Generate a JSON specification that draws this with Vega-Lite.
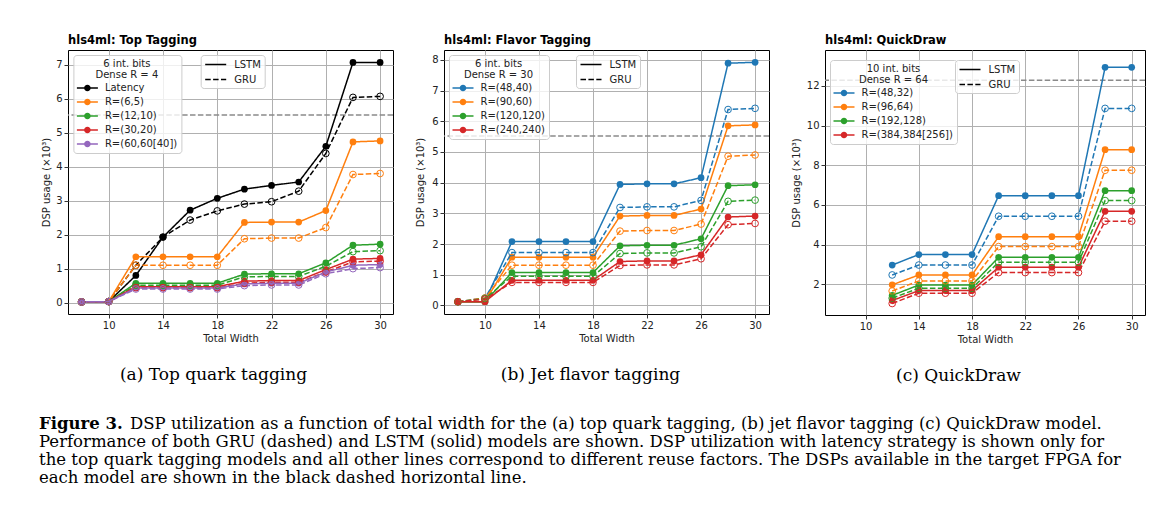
{
  "$schema": "https://vega.github.io/schema/vega-lite/v6.json",
  "background": "white",
  "padding": {"left": 39, "top": 34, "right": 31, "bottom": 20},
  "spacing": 31,
  "config": {
    "font": "DejaVu Sans",
    "view": {"stroke": "black", "strokeWidth": 1},
    "axis": {"domain": false, "tickColor": "black", "tickSize": 4, "tickWidth": 0.8, "labelFont": "DejaVu Sans", "labelFontSize": 10, "labelColor": "#222", "titleFont": "DejaVu Sans", "titleFontSize": 10, "titleFontWeight": "normal", "titleColor": "#222", "gridColor": "#b0b0b0", "gridWidth": 1, "labelPadding": 2},
    "legend": {"labelFont": "DejaVu Sans", "labelFontSize": 10, "labelColor": "#222", "titleFont": "DejaVu Sans", "titleFontSize": 10, "titleFontWeight": "normal", "titleColor": "#222", "symbolBaseStrokeColor": "black", "fillColor": "rgba(255,255,255,0.8)", "strokeColor": "#cccccc", "cornerRadius": 3, "padding": 3.5, "rowPadding": 4, "labelOffset": 18},
    "title": {"font": "DejaVu Sans", "fontSize": 11.5, "fontWeight": "bold", "color": "black", "anchor": "start", "frame": "group", "offset": 4}
  },
  "datasets": {
    "top": [
      {"s":"Latency","m":"LSTM","w":8,"v":0.02},{"s":"Latency","m":"LSTM","w":10,"v":0.03},{"s":"Latency","m":"LSTM","w":12,"v":0.8},{"s":"Latency","m":"LSTM","w":14,"v":1.93},{"s":"Latency","m":"LSTM","w":16,"v":2.72},{"s":"Latency","m":"LSTM","w":18,"v":3.07},{"s":"Latency","m":"LSTM","w":20,"v":3.34},{"s":"Latency","m":"LSTM","w":22,"v":3.45},{"s":"Latency","m":"LSTM","w":24,"v":3.55},{"s":"Latency","m":"LSTM","w":26,"v":4.6},{"s":"Latency","m":"LSTM","w":28,"v":7.07},{"s":"Latency","m":"LSTM","w":30,"v":7.07},
      {"s":"Latency","m":"GRU","w":8,"v":0.02},{"s":"Latency","m":"GRU","w":10,"v":0.03},{"s":"Latency","m":"GRU","w":12,"v":1.1},{"s":"Latency","m":"GRU","w":14,"v":1.93},{"s":"Latency","m":"GRU","w":16,"v":2.43},{"s":"Latency","m":"GRU","w":18,"v":2.7},{"s":"Latency","m":"GRU","w":20,"v":2.9},{"s":"Latency","m":"GRU","w":22,"v":2.97},{"s":"Latency","m":"GRU","w":24,"v":3.28},{"s":"Latency","m":"GRU","w":26,"v":4.39},{"s":"Latency","m":"GRU","w":28,"v":6.04},{"s":"Latency","m":"GRU","w":30,"v":6.07},
      {"s":"R=(6,5)","m":"LSTM","w":8,"v":0.02},{"s":"R=(6,5)","m":"LSTM","w":10,"v":0.03},{"s":"R=(6,5)","m":"LSTM","w":12,"v":1.35},{"s":"R=(6,5)","m":"LSTM","w":14,"v":1.35},{"s":"R=(6,5)","m":"LSTM","w":16,"v":1.35},{"s":"R=(6,5)","m":"LSTM","w":18,"v":1.35},{"s":"R=(6,5)","m":"LSTM","w":20,"v":2.36},{"s":"R=(6,5)","m":"LSTM","w":22,"v":2.37},{"s":"R=(6,5)","m":"LSTM","w":24,"v":2.37},{"s":"R=(6,5)","m":"LSTM","w":26,"v":2.71},{"s":"R=(6,5)","m":"LSTM","w":28,"v":4.73},{"s":"R=(6,5)","m":"LSTM","w":30,"v":4.76},
      {"s":"R=(6,5)","m":"GRU","w":8,"v":0.02},{"s":"R=(6,5)","m":"GRU","w":10,"v":0.03},{"s":"R=(6,5)","m":"GRU","w":12,"v":1.1},{"s":"R=(6,5)","m":"GRU","w":14,"v":1.1},{"s":"R=(6,5)","m":"GRU","w":16,"v":1.1},{"s":"R=(6,5)","m":"GRU","w":18,"v":1.1},{"s":"R=(6,5)","m":"GRU","w":20,"v":1.88},{"s":"R=(6,5)","m":"GRU","w":22,"v":1.9},{"s":"R=(6,5)","m":"GRU","w":24,"v":1.9},{"s":"R=(6,5)","m":"GRU","w":26,"v":2.21},{"s":"R=(6,5)","m":"GRU","w":28,"v":3.77},{"s":"R=(6,5)","m":"GRU","w":30,"v":3.8},
      {"s":"R=(12,10)","m":"LSTM","w":8,"v":0.02},{"s":"R=(12,10)","m":"LSTM","w":10,"v":0.03},{"s":"R=(12,10)","m":"LSTM","w":12,"v":0.57},{"s":"R=(12,10)","m":"LSTM","w":14,"v":0.57},{"s":"R=(12,10)","m":"LSTM","w":16,"v":0.57},{"s":"R=(12,10)","m":"LSTM","w":18,"v":0.57},{"s":"R=(12,10)","m":"LSTM","w":20,"v":0.84},{"s":"R=(12,10)","m":"LSTM","w":22,"v":0.85},{"s":"R=(12,10)","m":"LSTM","w":24,"v":0.85},{"s":"R=(12,10)","m":"LSTM","w":26,"v":1.17},{"s":"R=(12,10)","m":"LSTM","w":28,"v":1.69},{"s":"R=(12,10)","m":"LSTM","w":30,"v":1.72},
      {"s":"R=(12,10)","m":"GRU","w":8,"v":0.02},{"s":"R=(12,10)","m":"GRU","w":10,"v":0.03},{"s":"R=(12,10)","m":"GRU","w":12,"v":0.51},{"s":"R=(12,10)","m":"GRU","w":14,"v":0.51},{"s":"R=(12,10)","m":"GRU","w":16,"v":0.51},{"s":"R=(12,10)","m":"GRU","w":18,"v":0.51},{"s":"R=(12,10)","m":"GRU","w":20,"v":0.76},{"s":"R=(12,10)","m":"GRU","w":22,"v":0.77},{"s":"R=(12,10)","m":"GRU","w":24,"v":0.77},{"s":"R=(12,10)","m":"GRU","w":26,"v":1.07},{"s":"R=(12,10)","m":"GRU","w":28,"v":1.5},{"s":"R=(12,10)","m":"GRU","w":30,"v":1.53},
      {"s":"R=(30,20)","m":"LSTM","w":8,"v":0.02},{"s":"R=(30,20)","m":"LSTM","w":10,"v":0.03},{"s":"R=(30,20)","m":"LSTM","w":12,"v":0.47},{"s":"R=(30,20)","m":"LSTM","w":14,"v":0.47},{"s":"R=(30,20)","m":"LSTM","w":16,"v":0.47},{"s":"R=(30,20)","m":"LSTM","w":18,"v":0.47},{"s":"R=(30,20)","m":"LSTM","w":20,"v":0.63},{"s":"R=(30,20)","m":"LSTM","w":22,"v":0.65},{"s":"R=(30,20)","m":"LSTM","w":24,"v":0.65},{"s":"R=(30,20)","m":"LSTM","w":26,"v":0.97},{"s":"R=(30,20)","m":"LSTM","w":28,"v":1.28},{"s":"R=(30,20)","m":"LSTM","w":30,"v":1.3},
      {"s":"R=(30,20)","m":"GRU","w":8,"v":0.02},{"s":"R=(30,20)","m":"GRU","w":10,"v":0.03},{"s":"R=(30,20)","m":"GRU","w":12,"v":0.44},{"s":"R=(30,20)","m":"GRU","w":14,"v":0.44},{"s":"R=(30,20)","m":"GRU","w":16,"v":0.44},{"s":"R=(30,20)","m":"GRU","w":18,"v":0.44},{"s":"R=(30,20)","m":"GRU","w":20,"v":0.57},{"s":"R=(30,20)","m":"GRU","w":22,"v":0.6},{"s":"R=(30,20)","m":"GRU","w":24,"v":0.6},{"s":"R=(30,20)","m":"GRU","w":26,"v":0.9},{"s":"R=(30,20)","m":"GRU","w":28,"v":1.2},{"s":"R=(30,20)","m":"GRU","w":30,"v":1.22},
      {"s":"R=(60,60[40])","m":"LSTM","w":8,"v":0.02},{"s":"R=(60,60[40])","m":"LSTM","w":10,"v":0.03},{"s":"R=(60,60[40])","m":"LSTM","w":12,"v":0.43},{"s":"R=(60,60[40])","m":"LSTM","w":14,"v":0.43},{"s":"R=(60,60[40])","m":"LSTM","w":16,"v":0.43},{"s":"R=(60,60[40])","m":"LSTM","w":18,"v":0.43},{"s":"R=(60,60[40])","m":"LSTM","w":20,"v":0.55},{"s":"R=(60,60[40])","m":"LSTM","w":22,"v":0.57},{"s":"R=(60,60[40])","m":"LSTM","w":24,"v":0.57},{"s":"R=(60,60[40])","m":"LSTM","w":26,"v":0.9},{"s":"R=(60,60[40])","m":"LSTM","w":28,"v":1.1},{"s":"R=(60,60[40])","m":"LSTM","w":30,"v":1.12},
      {"s":"R=(60,60[40])","m":"GRU","w":8,"v":0.02},{"s":"R=(60,60[40])","m":"GRU","w":10,"v":0.03},{"s":"R=(60,60[40])","m":"GRU","w":12,"v":0.4},{"s":"R=(60,60[40])","m":"GRU","w":14,"v":0.4},{"s":"R=(60,60[40])","m":"GRU","w":16,"v":0.4},{"s":"R=(60,60[40])","m":"GRU","w":18,"v":0.4},{"s":"R=(60,60[40])","m":"GRU","w":20,"v":0.5},{"s":"R=(60,60[40])","m":"GRU","w":22,"v":0.52},{"s":"R=(60,60[40])","m":"GRU","w":24,"v":0.52},{"s":"R=(60,60[40])","m":"GRU","w":26,"v":0.85},{"s":"R=(60,60[40])","m":"GRU","w":28,"v":1.0},{"s":"R=(60,60[40])","m":"GRU","w":30,"v":1.03}
    ],
    "flavor": [
      {"s":"R=(48,40)","m":"LSTM","w":8,"v":0.12},{"s":"R=(48,40)","m":"LSTM","w":10,"v":0.12},{"s":"R=(48,40)","m":"LSTM","w":12,"v":2.08},{"s":"R=(48,40)","m":"LSTM","w":14,"v":2.08},{"s":"R=(48,40)","m":"LSTM","w":16,"v":2.08},{"s":"R=(48,40)","m":"LSTM","w":18,"v":2.08},{"s":"R=(48,40)","m":"LSTM","w":20,"v":3.94},{"s":"R=(48,40)","m":"LSTM","w":22,"v":3.96},{"s":"R=(48,40)","m":"LSTM","w":24,"v":3.96},{"s":"R=(48,40)","m":"LSTM","w":26,"v":4.16},{"s":"R=(48,40)","m":"LSTM","w":28,"v":7.89},{"s":"R=(48,40)","m":"LSTM","w":30,"v":7.92},
      {"s":"R=(48,40)","m":"GRU","w":8,"v":0.12},{"s":"R=(48,40)","m":"GRU","w":10,"v":0.24},{"s":"R=(48,40)","m":"GRU","w":12,"v":1.72},{"s":"R=(48,40)","m":"GRU","w":14,"v":1.72},{"s":"R=(48,40)","m":"GRU","w":16,"v":1.72},{"s":"R=(48,40)","m":"GRU","w":18,"v":1.72},{"s":"R=(48,40)","m":"GRU","w":20,"v":3.19},{"s":"R=(48,40)","m":"GRU","w":22,"v":3.21},{"s":"R=(48,40)","m":"GRU","w":24,"v":3.21},{"s":"R=(48,40)","m":"GRU","w":26,"v":3.42},{"s":"R=(48,40)","m":"GRU","w":28,"v":6.38},{"s":"R=(48,40)","m":"GRU","w":30,"v":6.42},
      {"s":"R=(90,60)","m":"LSTM","w":8,"v":0.12},{"s":"R=(90,60)","m":"LSTM","w":10,"v":0.12},{"s":"R=(90,60)","m":"LSTM","w":12,"v":1.57},{"s":"R=(90,60)","m":"LSTM","w":14,"v":1.57},{"s":"R=(90,60)","m":"LSTM","w":16,"v":1.57},{"s":"R=(90,60)","m":"LSTM","w":18,"v":1.57},{"s":"R=(90,60)","m":"LSTM","w":20,"v":2.91},{"s":"R=(90,60)","m":"LSTM","w":22,"v":2.93},{"s":"R=(90,60)","m":"LSTM","w":24,"v":2.93},{"s":"R=(90,60)","m":"LSTM","w":26,"v":3.14},{"s":"R=(90,60)","m":"LSTM","w":28,"v":5.85},{"s":"R=(90,60)","m":"LSTM","w":30,"v":5.88},
      {"s":"R=(90,60)","m":"GRU","w":8,"v":0.12},{"s":"R=(90,60)","m":"GRU","w":10,"v":0.24},{"s":"R=(90,60)","m":"GRU","w":12,"v":1.31},{"s":"R=(90,60)","m":"GRU","w":14,"v":1.31},{"s":"R=(90,60)","m":"GRU","w":16,"v":1.31},{"s":"R=(90,60)","m":"GRU","w":18,"v":1.31},{"s":"R=(90,60)","m":"GRU","w":20,"v":2.42},{"s":"R=(90,60)","m":"GRU","w":22,"v":2.44},{"s":"R=(90,60)","m":"GRU","w":24,"v":2.44},{"s":"R=(90,60)","m":"GRU","w":26,"v":2.65},{"s":"R=(90,60)","m":"GRU","w":28,"v":4.86},{"s":"R=(90,60)","m":"GRU","w":30,"v":4.9},
      {"s":"R=(120,120)","m":"LSTM","w":8,"v":0.12},{"s":"R=(120,120)","m":"LSTM","w":10,"v":0.12},{"s":"R=(120,120)","m":"LSTM","w":12,"v":1.07},{"s":"R=(120,120)","m":"LSTM","w":14,"v":1.07},{"s":"R=(120,120)","m":"LSTM","w":16,"v":1.07},{"s":"R=(120,120)","m":"LSTM","w":18,"v":1.07},{"s":"R=(120,120)","m":"LSTM","w":20,"v":1.94},{"s":"R=(120,120)","m":"LSTM","w":22,"v":1.96},{"s":"R=(120,120)","m":"LSTM","w":24,"v":1.96},{"s":"R=(120,120)","m":"LSTM","w":26,"v":2.17},{"s":"R=(120,120)","m":"LSTM","w":28,"v":3.9},{"s":"R=(120,120)","m":"LSTM","w":30,"v":3.93},
      {"s":"R=(120,120)","m":"GRU","w":8,"v":0.12},{"s":"R=(120,120)","m":"GRU","w":10,"v":0.22},{"s":"R=(120,120)","m":"GRU","w":12,"v":0.95},{"s":"R=(120,120)","m":"GRU","w":14,"v":0.95},{"s":"R=(120,120)","m":"GRU","w":16,"v":0.95},{"s":"R=(120,120)","m":"GRU","w":18,"v":0.95},{"s":"R=(120,120)","m":"GRU","w":20,"v":1.69},{"s":"R=(120,120)","m":"GRU","w":22,"v":1.71},{"s":"R=(120,120)","m":"GRU","w":24,"v":1.71},{"s":"R=(120,120)","m":"GRU","w":26,"v":1.91},{"s":"R=(120,120)","m":"GRU","w":28,"v":3.39},{"s":"R=(120,120)","m":"GRU","w":30,"v":3.43},
      {"s":"R=(240,240)","m":"LSTM","w":8,"v":0.12},{"s":"R=(240,240)","m":"LSTM","w":10,"v":0.12},{"s":"R=(240,240)","m":"LSTM","w":12,"v":0.82},{"s":"R=(240,240)","m":"LSTM","w":14,"v":0.82},{"s":"R=(240,240)","m":"LSTM","w":16,"v":0.82},{"s":"R=(240,240)","m":"LSTM","w":18,"v":0.82},{"s":"R=(240,240)","m":"LSTM","w":20,"v":1.43},{"s":"R=(240,240)","m":"LSTM","w":22,"v":1.45},{"s":"R=(240,240)","m":"LSTM","w":24,"v":1.45},{"s":"R=(240,240)","m":"LSTM","w":26,"v":1.65},{"s":"R=(240,240)","m":"LSTM","w":28,"v":2.88},{"s":"R=(240,240)","m":"LSTM","w":30,"v":2.91},
      {"s":"R=(240,240)","m":"GRU","w":8,"v":0.12},{"s":"R=(240,240)","m":"GRU","w":10,"v":0.2},{"s":"R=(240,240)","m":"GRU","w":12,"v":0.75},{"s":"R=(240,240)","m":"GRU","w":14,"v":0.75},{"s":"R=(240,240)","m":"GRU","w":16,"v":0.75},{"s":"R=(240,240)","m":"GRU","w":18,"v":0.75},{"s":"R=(240,240)","m":"GRU","w":20,"v":1.3},{"s":"R=(240,240)","m":"GRU","w":22,"v":1.32},{"s":"R=(240,240)","m":"GRU","w":24,"v":1.32},{"s":"R=(240,240)","m":"GRU","w":26,"v":1.52},{"s":"R=(240,240)","m":"GRU","w":28,"v":2.63},{"s":"R=(240,240)","m":"GRU","w":30,"v":2.67}
    ],
    "quick": [
      {"s":"R=(48,32)","m":"LSTM","w":12,"v":2.97},{"s":"R=(48,32)","m":"LSTM","w":14,"v":3.5},{"s":"R=(48,32)","m":"LSTM","w":16,"v":3.5},{"s":"R=(48,32)","m":"LSTM","w":18,"v":3.5},{"s":"R=(48,32)","m":"LSTM","w":20,"v":6.47},{"s":"R=(48,32)","m":"LSTM","w":22,"v":6.47},{"s":"R=(48,32)","m":"LSTM","w":24,"v":6.47},{"s":"R=(48,32)","m":"LSTM","w":26,"v":6.47},{"s":"R=(48,32)","m":"LSTM","w":28,"v":12.94},{"s":"R=(48,32)","m":"LSTM","w":30,"v":12.94},
      {"s":"R=(48,32)","m":"GRU","w":12,"v":2.47},{"s":"R=(48,32)","m":"GRU","w":14,"v":2.97},{"s":"R=(48,32)","m":"GRU","w":16,"v":2.97},{"s":"R=(48,32)","m":"GRU","w":18,"v":2.97},{"s":"R=(48,32)","m":"GRU","w":20,"v":5.43},{"s":"R=(48,32)","m":"GRU","w":22,"v":5.43},{"s":"R=(48,32)","m":"GRU","w":24,"v":5.43},{"s":"R=(48,32)","m":"GRU","w":26,"v":5.43},{"s":"R=(48,32)","m":"GRU","w":28,"v":10.87},{"s":"R=(48,32)","m":"GRU","w":30,"v":10.87},
      {"s":"R=(96,64)","m":"LSTM","w":12,"v":1.97},{"s":"R=(96,64)","m":"LSTM","w":14,"v":2.47},{"s":"R=(96,64)","m":"LSTM","w":16,"v":2.47},{"s":"R=(96,64)","m":"LSTM","w":18,"v":2.47},{"s":"R=(96,64)","m":"LSTM","w":20,"v":4.4},{"s":"R=(96,64)","m":"LSTM","w":22,"v":4.4},{"s":"R=(96,64)","m":"LSTM","w":24,"v":4.4},{"s":"R=(96,64)","m":"LSTM","w":26,"v":4.4},{"s":"R=(96,64)","m":"LSTM","w":28,"v":8.79},{"s":"R=(96,64)","m":"LSTM","w":30,"v":8.79},
      {"s":"R=(96,64)","m":"GRU","w":12,"v":1.66},{"s":"R=(96,64)","m":"GRU","w":14,"v":2.17},{"s":"R=(96,64)","m":"GRU","w":16,"v":2.17},{"s":"R=(96,64)","m":"GRU","w":18,"v":2.17},{"s":"R=(96,64)","m":"GRU","w":20,"v":3.9},{"s":"R=(96,64)","m":"GRU","w":22,"v":3.9},{"s":"R=(96,64)","m":"GRU","w":24,"v":3.9},{"s":"R=(96,64)","m":"GRU","w":26,"v":3.9},{"s":"R=(96,64)","m":"GRU","w":28,"v":7.75},{"s":"R=(96,64)","m":"GRU","w":30,"v":7.75},
      {"s":"R=(192,128)","m":"LSTM","w":12,"v":1.44},{"s":"R=(192,128)","m":"LSTM","w":14,"v":1.96},{"s":"R=(192,128)","m":"LSTM","w":16,"v":1.96},{"s":"R=(192,128)","m":"LSTM","w":18,"v":1.96},{"s":"R=(192,128)","m":"LSTM","w":20,"v":3.36},{"s":"R=(192,128)","m":"LSTM","w":22,"v":3.36},{"s":"R=(192,128)","m":"LSTM","w":24,"v":3.36},{"s":"R=(192,128)","m":"LSTM","w":26,"v":3.36},{"s":"R=(192,128)","m":"LSTM","w":28,"v":6.72},{"s":"R=(192,128)","m":"LSTM","w":30,"v":6.72},
      {"s":"R=(192,128)","m":"GRU","w":12,"v":1.3},{"s":"R=(192,128)","m":"GRU","w":14,"v":1.8},{"s":"R=(192,128)","m":"GRU","w":16,"v":1.8},{"s":"R=(192,128)","m":"GRU","w":18,"v":1.8},{"s":"R=(192,128)","m":"GRU","w":20,"v":3.11},{"s":"R=(192,128)","m":"GRU","w":22,"v":3.11},{"s":"R=(192,128)","m":"GRU","w":24,"v":3.11},{"s":"R=(192,128)","m":"GRU","w":26,"v":3.11},{"s":"R=(192,128)","m":"GRU","w":28,"v":6.22},{"s":"R=(192,128)","m":"GRU","w":30,"v":6.22},
      {"s":"R=(384,384[256])","m":"LSTM","w":12,"v":1.18},{"s":"R=(384,384[256])","m":"LSTM","w":14,"v":1.68},{"s":"R=(384,384[256])","m":"LSTM","w":16,"v":1.68},{"s":"R=(384,384[256])","m":"LSTM","w":18,"v":1.68},{"s":"R=(384,384[256])","m":"LSTM","w":20,"v":2.86},{"s":"R=(384,384[256])","m":"LSTM","w":22,"v":2.86},{"s":"R=(384,384[256])","m":"LSTM","w":24,"v":2.86},{"s":"R=(384,384[256])","m":"LSTM","w":26,"v":2.86},{"s":"R=(384,384[256])","m":"LSTM","w":28,"v":5.68},{"s":"R=(384,384[256])","m":"LSTM","w":30,"v":5.68},
      {"s":"R=(384,384[256])","m":"GRU","w":12,"v":1.03},{"s":"R=(384,384[256])","m":"GRU","w":14,"v":1.55},{"s":"R=(384,384[256])","m":"GRU","w":16,"v":1.55},{"s":"R=(384,384[256])","m":"GRU","w":18,"v":1.55},{"s":"R=(384,384[256])","m":"GRU","w":20,"v":2.59},{"s":"R=(384,384[256])","m":"GRU","w":22,"v":2.59},{"s":"R=(384,384[256])","m":"GRU","w":24,"v":2.59},{"s":"R=(384,384[256])","m":"GRU","w":26,"v":2.59},{"s":"R=(384,384[256])","m":"GRU","w":28,"v":5.18},{"s":"R=(384,384[256])","m":"GRU","w":30,"v":5.18}
    ]
  },
  "vconcat": [
    {
      "spacing": 20,
      "resolve": {"scale": {"color": "independent", "strokeDash": "independent"}, "legend": {"color": "independent", "strokeDash": "independent"}},
      "hconcat": [
        {
          "width": 325, "height": 264,
          "title": {"text": "hls4ml: Top Tagging"},
          "resolve": {"axis": {"x": "independent"}},
          "layer": [
            {
              "data": {"values": [{"fpga": 5.52}]},
              "mark": {"type": "rule", "color": "#8a8a8a", "strokeWidth": 1.5, "strokeDash": [5.5, 2.4]},
              "encoding": {"y": {"field": "fpga", "type": "quantitative", "scale": {"domain": [-0.335, 7.435], "nice": false, "zero": false}, "axis": {"values": [0, 1, 2, 3, 4, 5, 6, 7], "title": "DSP usage (×10³)", "grid": true, "titlePadding": 2, "minExtent": 15, "maxExtent": 15}}}
            },
            {
              "data": {"name": "top"},
              "transform": [{"filter": "datum.m == 'LSTM'"}],
              "mark": {"type": "point", "filled": true, "opacity": 1, "size": 45},
              "encoding": {
                "x": {"field": "w", "type": "quantitative", "scale": {"domain": [7.0, 30.95], "nice": false, "zero": false}, "axis": null},
                "y": {"field": "v", "type": "quantitative", "scale": {"domain": [-0.335, 7.435], "nice": false, "zero": false}, "axis": {"values": [0, 1, 2, 3, 4, 5, 6, 7], "title": "DSP usage (×10³)", "grid": true, "titlePadding": 2, "minExtent": 15, "maxExtent": 15}},
                "color": {"field": "s", "type": "nominal", "scale": {"domain": ["Latency", "R=(6,5)", "R=(12,10)", "R=(30,20)", "R=(60,60[40])"], "range": ["#000000", "#ff7f0e", "#2ca02c", "#d62728", "#9467bd"]}, "legend": {"orient": "none", "legendX": 5.4, "legendY": 5, "title": ["6 int. bits", "Dense R = 4"], "titleAnchor": "middle", "titleAlign": "center", "titleLineHeight": 11.5, "titlePadding": 3, "symbolType": "M-1,-0.15H3.2V0.15H-1Z M1.76,0A0.66,0.66,0,1,1,0.44,0A0.66,0.66,0,1,1,1.76,0Z", "symbolSize": 100, "symbolStrokeWidth": 0}}
              }
            },
            {
              "data": {"name": "top"},
              "mark": {"type": "line", "strokeWidth": 1.5},
              "encoding": {
                "x": {"field": "w", "type": "quantitative", "scale": {"domain": [7.0, 30.95], "nice": false, "zero": false}, "axis": {"values": [10, 14, 18, 22, 26, 30], "title": "Total Width", "grid": true, "titlePadding": 3}},
                "y": {"field": "v", "type": "quantitative", "scale": {"domain": [-0.335, 7.435], "nice": false, "zero": false}, "axis": {"values": [0, 1, 2, 3, 4, 5, 6, 7], "title": "DSP usage (×10³)", "grid": true, "titlePadding": 2, "minExtent": 15, "maxExtent": 15}},
                "color": {"field": "s", "type": "nominal"},
                "strokeDash": {"field": "m", "type": "nominal", "scale": {"domain": ["LSTM", "GRU"], "range": [[1, 0], [5.5, 2.4]]}, "legend": {"orient": "none", "legendX": 132.7, "legendY": 5, "title": null, "symbolType": "M-1,0H3.2", "symbolSize": 100, "symbolStrokeColor": "black", "symbolStrokeWidth": 1.5}}
              }
            },
            {
              "data": {"name": "top"},
              "transform": [{"filter": "datum.m == 'GRU'"}],
              "mark": {"type": "point", "filled": false, "opacity": 1, "size": 45, "strokeWidth": 1},
              "encoding": {
                "x": {"field": "w", "type": "quantitative", "scale": {"domain": [7.0, 30.95], "nice": false, "zero": false}, "axis": {"orient": "bottom", "title": "(a) Top quark tagging", "labels": false, "ticks": false, "domain": false, "grid": false, "titleFont": "DejaVu Serif", "titleFontSize": 17, "titleColor": "black", "titlePadding": 52, "titleX": 145, "titleAlign": "center"}},
                "y": {"field": "v", "type": "quantitative", "scale": {"domain": [-0.335, 7.435], "nice": false, "zero": false}, "axis": {"values": [0, 1, 2, 3, 4, 5, 6, 7], "title": "DSP usage (×10³)", "grid": true, "titlePadding": 2, "minExtent": 15, "maxExtent": 15}},
                "color": {"field": "s", "type": "nominal"}
              }
            }
          ]
        },
        {
          "width": 325, "height": 264,
          "title": {"text": "hls4ml: Flavor Tagging"},
          "resolve": {"axis": {"x": "independent"}},
          "layer": [
            {
              "data": {"values": [{"fpga": 5.52}]},
              "mark": {"type": "rule", "color": "#8a8a8a", "strokeWidth": 1.5, "strokeDash": [5.5, 2.4]},
              "encoding": {"y": {"field": "fpga", "type": "quantitative", "scale": {"domain": [-0.28, 8.32], "nice": false, "zero": false}, "axis": {"values": [0, 1, 2, 3, 4, 5, 6, 7, 8], "title": "DSP usage (×10³)", "grid": true, "titlePadding": 2, "minExtent": 16.5, "maxExtent": 16.5}}}
            },
            {
              "data": {"name": "flavor"},
              "transform": [{"filter": "datum.m == 'LSTM'"}],
              "mark": {"type": "point", "filled": true, "opacity": 1, "size": 45},
              "encoding": {
                "x": {"field": "w", "type": "quantitative", "scale": {"domain": [6.97, 31.03], "nice": false, "zero": false}, "axis": null},
                "y": {"field": "v", "type": "quantitative", "scale": {"domain": [-0.28, 8.32], "nice": false, "zero": false}, "axis": {"values": [0, 1, 2, 3, 4, 5, 6, 7, 8], "title": "DSP usage (×10³)", "grid": true, "titlePadding": 2, "minExtent": 16.5, "maxExtent": 16.5}},
                "color": {"field": "s", "type": "nominal", "scale": {"domain": ["R=(48,40)", "R=(90,60)", "R=(120,120)", "R=(240,240)"], "range": ["#1f77b4", "#ff7f0e", "#2ca02c", "#d62728"]}, "legend": {"orient": "none", "legendX": 5, "legendY": 5, "title": ["6 int. bits", "Dense R = 30"], "titleAnchor": "middle", "titleAlign": "center", "titleLineHeight": 11.5, "titlePadding": 3, "symbolType": "M-1,-0.15H3.2V0.15H-1Z M1.76,0A0.66,0.66,0,1,1,0.44,0A0.66,0.66,0,1,1,1.76,0Z", "symbolSize": 100, "symbolStrokeWidth": 0}}
              }
            },
            {
              "data": {"name": "flavor"},
              "mark": {"type": "line", "strokeWidth": 1.5},
              "encoding": {
                "x": {"field": "w", "type": "quantitative", "scale": {"domain": [6.97, 31.03], "nice": false, "zero": false}, "axis": {"values": [10, 14, 18, 22, 26, 30], "title": "Total Width", "grid": true, "titlePadding": 3}},
                "y": {"field": "v", "type": "quantitative", "scale": {"domain": [-0.28, 8.32], "nice": false, "zero": false}, "axis": {"values": [0, 1, 2, 3, 4, 5, 6, 7, 8], "title": "DSP usage (×10³)", "grid": true, "titlePadding": 2, "minExtent": 16.5, "maxExtent": 16.5}},
                "color": {"field": "s", "type": "nominal"},
                "strokeDash": {"field": "m", "type": "nominal", "scale": {"domain": ["LSTM", "GRU"], "range": [[1, 0], [5.5, 2.4]]}, "legend": {"orient": "none", "legendX": 132, "legendY": 5, "title": null, "symbolType": "M-1,0H3.2", "symbolSize": 100, "symbolStrokeColor": "black", "symbolStrokeWidth": 1.5}}
              }
            },
            {
              "data": {"name": "flavor"},
              "transform": [{"filter": "datum.m == 'GRU'"}],
              "mark": {"type": "point", "filled": false, "opacity": 1, "size": 45, "strokeWidth": 1},
              "encoding": {
                "x": {"field": "w", "type": "quantitative", "scale": {"domain": [6.97, 31.03], "nice": false, "zero": false}, "axis": {"orient": "bottom", "title": "(b) Jet flavor tagging", "labels": false, "ticks": false, "domain": false, "grid": false, "titleFont": "DejaVu Serif", "titleFontSize": 17, "titleColor": "black", "titlePadding": 52, "titleX": 146, "titleAlign": "center"}},
                "y": {"field": "v", "type": "quantitative", "scale": {"domain": [-0.28, 8.32], "nice": false, "zero": false}, "axis": {"values": [0, 1, 2, 3, 4, 5, 6, 7, 8], "title": "DSP usage (×10³)", "grid": true, "titlePadding": 2, "minExtent": 16.5, "maxExtent": 16.5}},
                "color": {"field": "s", "type": "nominal"}
              }
            }
          ]
        },
        {
          "width": 320, "height": 265,
          "title": {"text": "hls4ml: QuickDraw"},
          "resolve": {"axis": {"x": "independent"}},
          "layer": [
            {
              "data": {"values": [{"fpga": 12.288}]},
              "mark": {"type": "rule", "color": "#8a8a8a", "strokeWidth": 1.5, "strokeDash": [5.5, 2.4]},
              "encoding": {"y": {"field": "fpga", "type": "quantitative", "scale": {"domain": [0.45, 13.815], "nice": false, "zero": false}, "axis": {"values": [2, 4, 6, 8, 10, 12], "title": "DSP usage (×10³)", "grid": true, "titlePadding": 2, "minExtent": 21.5, "maxExtent": 21.5}}}
            },
            {
              "data": {"name": "quick"},
              "transform": [{"filter": "datum.m == 'LSTM'"}],
              "mark": {"type": "point", "filled": true, "opacity": 1, "size": 45},
              "encoding": {
                "x": {"field": "w", "type": "quantitative", "scale": {"domain": [6.95, 31.0], "nice": false, "zero": false}, "axis": null},
                "y": {"field": "v", "type": "quantitative", "scale": {"domain": [0.45, 13.815], "nice": false, "zero": false}, "axis": {"values": [2, 4, 6, 8, 10, 12], "title": "DSP usage (×10³)", "grid": true, "titlePadding": 2, "minExtent": 21.5, "maxExtent": 21.5}},
                "color": {"field": "s", "type": "nominal", "scale": {"domain": ["R=(48,32)", "R=(96,64)", "R=(192,128)", "R=(384,384[256])"], "range": ["#1f77b4", "#ff7f0e", "#2ca02c", "#d62728"]}, "legend": {"orient": "none", "legendX": 5, "legendY": 10, "title": ["10 int. bits", "Dense R = 64"], "titleAnchor": "middle", "titleAlign": "center", "titleLineHeight": 11.5, "titlePadding": 3, "symbolType": "M-1,-0.15H3.2V0.15H-1Z M1.76,0A0.66,0.66,0,1,1,0.44,0A0.66,0.66,0,1,1,1.76,0Z", "symbolSize": 100, "symbolStrokeWidth": 0}}
              }
            },
            {
              "data": {"name": "quick"},
              "mark": {"type": "line", "strokeWidth": 1.5},
              "encoding": {
                "x": {"field": "w", "type": "quantitative", "scale": {"domain": [6.95, 31.0], "nice": false, "zero": false}, "axis": {"values": [10, 14, 18, 22, 26, 30], "title": "Total Width", "grid": true, "titlePadding": 3}},
                "y": {"field": "v", "type": "quantitative", "scale": {"domain": [0.45, 13.815], "nice": false, "zero": false}, "axis": {"values": [2, 4, 6, 8, 10, 12], "title": "DSP usage (×10³)", "grid": true, "titlePadding": 2, "minExtent": 21.5, "maxExtent": 21.5}},
                "color": {"field": "s", "type": "nominal"},
                "strokeDash": {"field": "m", "type": "nominal", "scale": {"domain": ["LSTM", "GRU"], "range": [[1, 0], [5.5, 2.4]]}, "legend": {"orient": "none", "legendX": 130, "legendY": 10, "title": null, "symbolType": "M-1,0H3.2", "symbolSize": 100, "symbolStrokeColor": "black", "symbolStrokeWidth": 1.5}}
              }
            },
            {
              "data": {"name": "quick"},
              "transform": [{"filter": "datum.m == 'GRU'"}],
              "mark": {"type": "point", "filled": false, "opacity": 1, "size": 45, "strokeWidth": 1},
              "encoding": {
                "x": {"field": "w", "type": "quantitative", "scale": {"domain": [6.95, 31.0], "nice": false, "zero": false}, "axis": {"orient": "bottom", "title": "(c) QuickDraw", "labels": false, "ticks": false, "domain": false, "grid": false, "titleFont": "DejaVu Serif", "titleFontSize": 17, "titleColor": "black", "titlePadding": 52, "titleX": 133, "titleAlign": "center"}},
                "y": {"field": "v", "type": "quantitative", "scale": {"domain": [0.45, 13.815], "nice": false, "zero": false}, "axis": {"values": [2, 4, 6, 8, 10, 12], "title": "DSP usage (×10³)", "grid": true, "titlePadding": 2, "minExtent": 21.5, "maxExtent": 21.5}},
                "color": {"field": "s", "type": "nominal"}
              }
            }
          ]
        }
      ]
    },
    {
      "width": 1090, "height": 72,
      "view": {"stroke": null},
      "data": {"values": [
        {"line": 1, "part": "head", "text": "Figure 3."},
        {"line": 1, "part": "first", "text": "DSP utilization as a function of total width for the (a) top quark tagging, (b) jet flavor tagging (c) QuickDraw model."},
        {"line": 2, "part": "body", "text": "Performance of both GRU (dashed) and LSTM (solid) models are shown. DSP utilization with latency strategy is shown only for"},
        {"line": 3, "part": "body", "text": "the top quark tagging models and all other lines correspond to different reuse factors. The DSPs available in the target FPGA for"},
        {"line": 4, "part": "body", "text": "each model are shown in the black dashed horizontal line."}
      ]},
      "layer": [
        {
          "transform": [{"filter": "datum.part == 'head'"}],
          "mark": {"type": "text", "align": "left", "baseline": "middle", "font": "DejaVu Serif", "fontSize": 16.5, "fontWeight": "bold", "color": "black", "dx": -29},
          "encoding": {"x": {"value": 0}, "y": {"field": "line", "type": "ordinal", "axis": null, "scale": {"type": "point", "padding": 0.5, "domain": [1, 2, 3, 4]}}, "text": {"field": "text"}}
        },
        {
          "transform": [{"filter": "datum.part == 'first'"}],
          "mark": {"type": "text", "align": "left", "baseline": "middle", "font": "DejaVu Serif", "fontSize": 16.5, "color": "black", "dx": 62},
          "encoding": {"x": {"value": 0}, "y": {"field": "line", "type": "ordinal", "axis": null}, "text": {"field": "text"}}
        },
        {
          "transform": [{"filter": "datum.part == 'body'"}],
          "mark": {"type": "text", "align": "left", "baseline": "middle", "font": "DejaVu Serif", "fontSize": 16.5, "color": "black", "dx": -29},
          "encoding": {"x": {"value": 0}, "y": {"field": "line", "type": "ordinal", "axis": null}, "text": {"field": "text"}}
        }
      ]
    }
  ]
}
